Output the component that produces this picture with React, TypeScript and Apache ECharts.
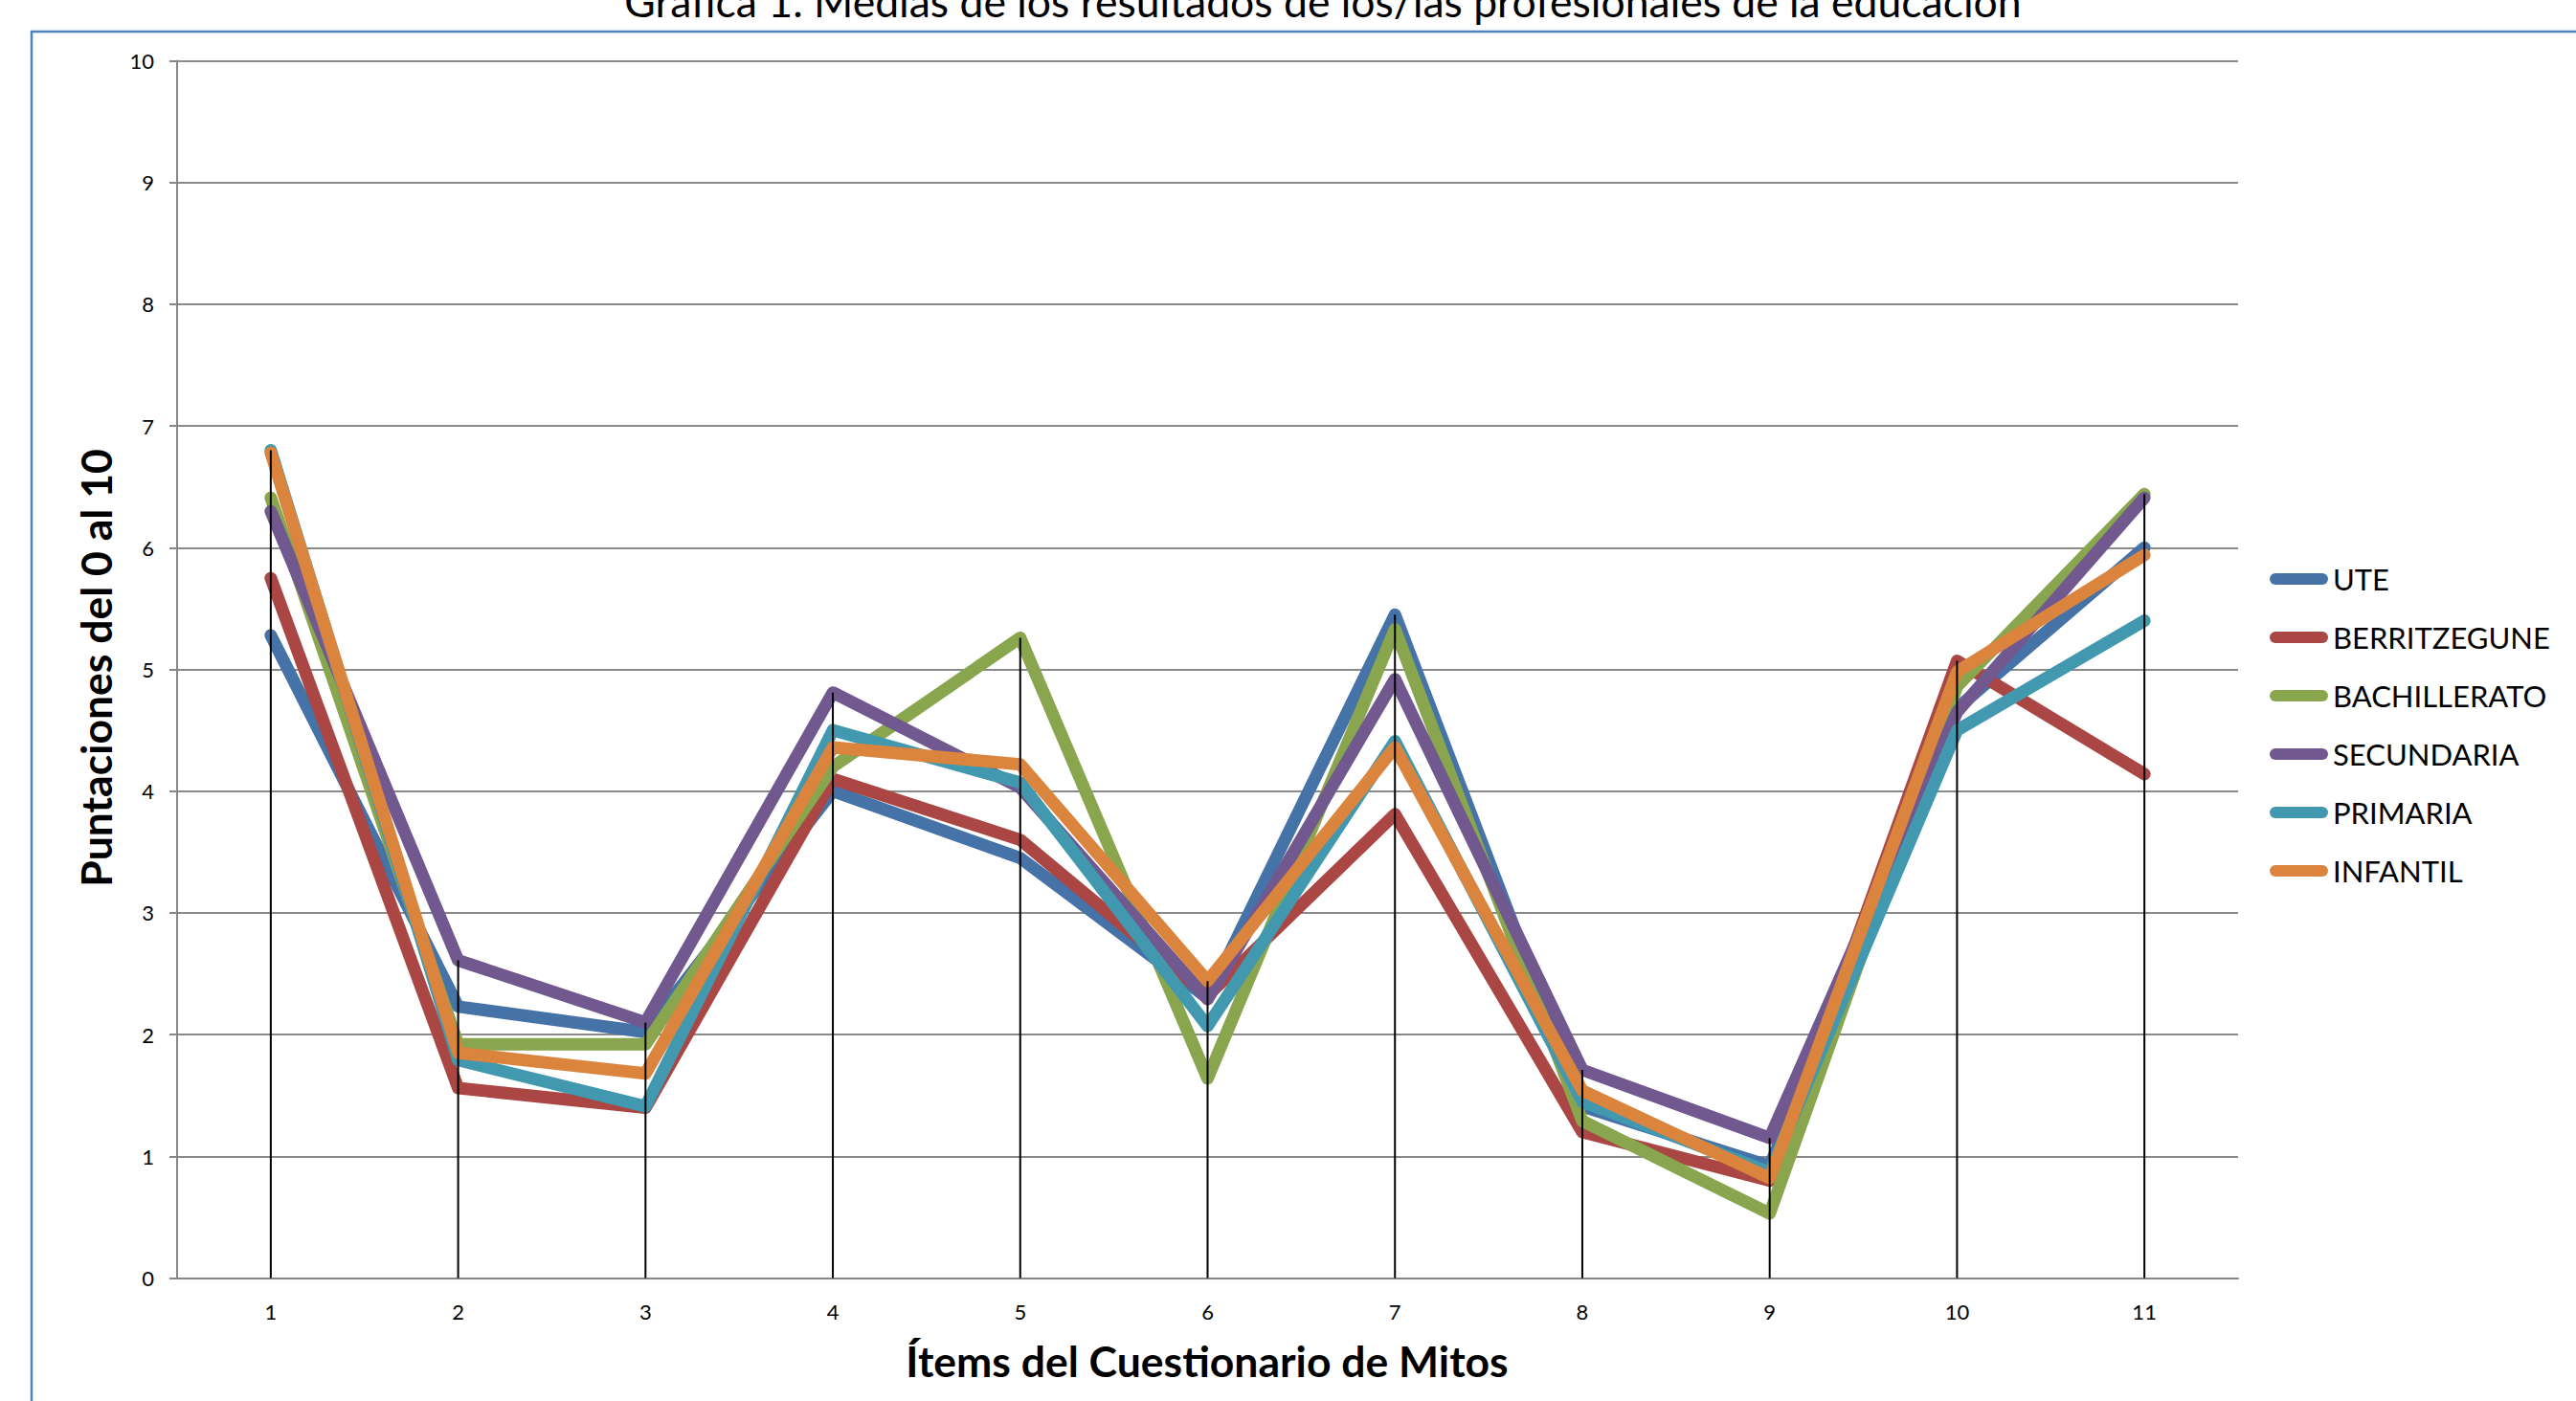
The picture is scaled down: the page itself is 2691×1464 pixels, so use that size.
import React, { useEffect, useRef } from "react";
import * as echarts from "echarts";

const categories = ["1", "2", "3", "4", "5", "6", "7", "8", "9", "10", "11"];
const yTicks = [0, 1, 2, 3, 4, 5, 6, 7, 8, 9, 10];

const seriesNames = ["UTE", "BERRITZEGUNE", "BACHILLERATO", "SECUNDARIA", "PRIMARIA", "INFANTIL"];
const seriesColors = ["#4572A7", "#AA4643", "#89A54E", "#71588F", "#4198AF", "#DB843D"];

const ute = [5.28, 2.23, 2.02, 4.0, 3.45, 2.3, 5.45, 1.41, 0.92, 4.68, 6.0];
const berritzegune = [5.75, 1.56, 1.4, 4.1, 3.6, 2.32, 3.81, 1.2, 0.8, 5.07, 4.14];
const bachillerato = [6.41, 1.92, 1.92, 4.2, 5.26, 1.64, 5.33, 1.29, 0.53, 4.86, 6.44];
const secundaria = [6.3, 2.61, 2.1, 4.81, 4.03, 2.29, 4.92, 1.71, 1.15, 4.65, 6.41];
const primaria = [6.8, 1.79, 1.41, 4.5, 4.07, 2.07, 4.41, 1.45, 0.87, 4.5, 5.4];
const infantil = [6.78, 1.85, 1.68, 4.36, 4.22, 2.44, 4.36, 1.54, 0.82, 4.98, 5.94];

const allSeries = [ute, berritzegune, bachillerato, secundaria, primaria, infantil];

const titleText = "Gráfica 1. Medias de los resultados de los/las profesionales de la educación";
const xTitle = "Ítems del Cuestionario de Mitos";
const yTitle = "Puntaciones del 0 al 10";

const FONT = "Lato, 'Open Sans', sans-serif";

export default function App() {
  const ref = useRef<HTMLDivElement>(null);

  useEffect(() => {
    if (!ref.current) return;
    const chart = echarts.init(ref.current, undefined, { renderer: "svg" });

    const dropTops = categories.map((_, i) => Math.max(...allSeries.map((s) => s[i])));

    const lineSeries = seriesNames.map((name, k) => ({
      name,
      type: "line",
      data: allSeries[k],
      showSymbol: false,
      symbol: "none",
      lineStyle: { color: seriesColors[k], width: 13, cap: "round", join: "round" },
      itemStyle: { color: seriesColors[k] },
      z: 2,
    }));

    const pill = "path://M6,0 L55,0 A6,6 0 0 1 55,12 L6,12 A6,6 0 0 1 6,0 Z";

    chart.setOption({
      animation: false,
      backgroundColor: "#ffffff",
      textStyle: { fontFamily: FONT },
      grid: { left: 185, top: 63.5, width: 2153, height: 1272, containLabel: false },
      legend: {
        data: seriesNames.map((n) => ({ name: n, icon: pill })),
        orient: "vertical",
        left: 2366,
        top: 580,
        itemWidth: 61,
        itemHeight: 12,
        itemGap: 21,
        textStyle: { fontFamily: FONT, fontSize: 31, color: "#000", lineHeight: 40 },
        selectedMode: false,
      },
      xAxis: {
        type: "category",
        data: categories,
        boundaryGap: true,
        axisLine: { show: true, lineStyle: { color: "#868686", width: 2 } },
        axisTick: { show: false },
        axisLabel: { fontFamily: FONT, fontSize: 22, color: "#000", margin: 24 },
        splitLine: { show: false },
      },
      yAxis: {
        type: "value",
        min: 0,
        max: 10,
        interval: 1,
        axisLine: { show: true, lineStyle: { color: "#868686", width: 2 } },
        axisTick: { show: true, inside: false, length: 8, lineStyle: { color: "#868686", width: 2 } },
        axisLabel: {
          fontFamily: FONT,
          fontSize: 22,
          color: "#000",
          margin: 24,
          formatter: (v: number) => (yTicks.includes(v) ? String(v) : ""),
        },
        splitLine: { show: true, lineStyle: { color: "#8a8a8a", width: 2 } },
      },
      graphic: [
        {
          type: "rect",
          silent: true,
          shape: { x: 33, y: 33, width: 2800, height: 1600 },
          style: { fill: "none", stroke: "#4F81BD", lineWidth: 2.5 },
          z: 0,
        },
        {
          type: "text",
          silent: true,
          x: 1382,
          y: 0,
          style: {
            text: titleText,
            fontFamily: FONT,
            fontSize: 44.5,
            fill: "#000",
            align: "center",
            verticalAlign: "middle",
          },
        },
        {
          type: "text",
          silent: true,
          x: 1261,
          y: 1421,
          style: {
            text: xTitle,
            fontFamily: FONT,
            fontSize: 44.5,
            fontWeight: "bold",
            fill: "#000",
            align: "center",
            verticalAlign: "middle",
          },
        },
        {
          type: "text",
          silent: true,
          x: 99,
          y: 698,
          rotation: Math.PI / 2,
          style: {
            text: yTitle,
            fontFamily: FONT,
            fontSize: 44.5,
            fontWeight: "bold",
            fill: "#000",
            align: "center",
            verticalAlign: "middle",
          },
        },
      ],
      series: [
        ...lineSeries,
        {
          name: "drop",
          type: "bar",
          data: dropTops,
          barWidth: 2,
          itemStyle: { color: "#000" },
          z: 5,
          silent: true,
        },
      ],
    });

    return () => chart.dispose();
  }, []);

  return (
    <div
      ref={ref}
      style={{ position: "absolute", left: 0, top: 0, width: 2691, height: 1464, background: "#fff" }}
    />
  );
}
